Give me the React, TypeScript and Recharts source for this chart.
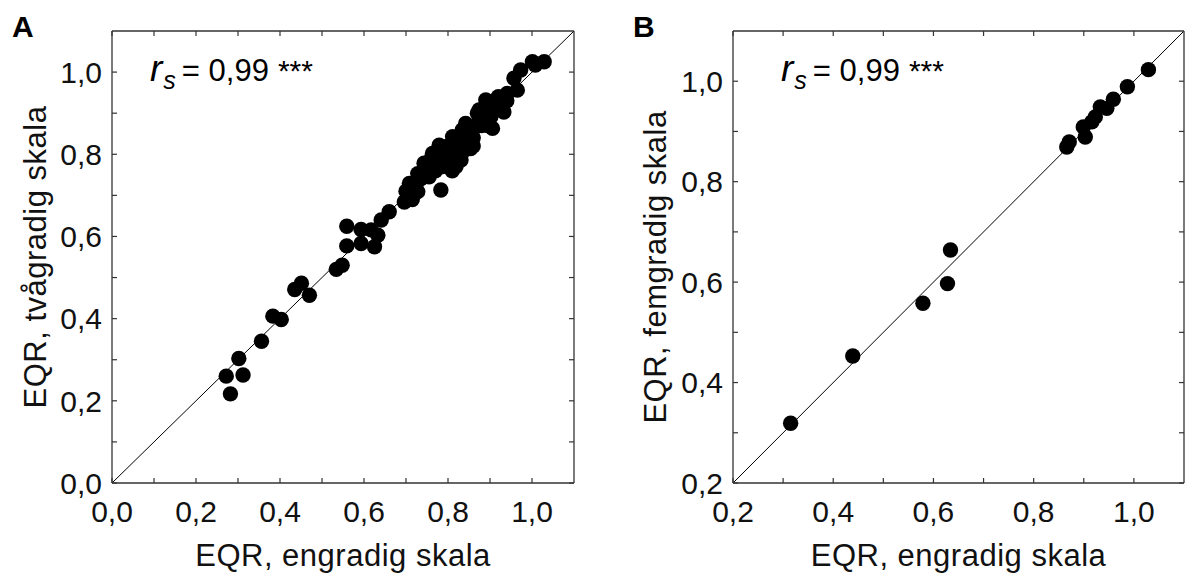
import React from 'react';
import { ScatterChart, Scatter, XAxis, YAxis, ReferenceLine } from 'recharts';

// ---------- Data ----------
// Panel A: EQR, engradig skala (x) vs EQR, tvågradig skala (y)
const panelAEngradig = [
  0.272, 0.282, 0.302, 0.312, 0.356, 0.383, 0.403, 0.435, 0.451, 0.470,
  0.534, 0.548, 0.559, 0.559, 0.593, 0.593, 0.617, 0.625, 0.633, 0.641,
  0.660, 0.696, 0.708, 0.708, 0.728, 0.728, 0.743, 0.755, 0.763, 0.783,
  0.779, 0.787, 0.803, 0.811, 0.819, 0.831, 0.834, 0.842, 0.854, 0.842,
  0.866, 0.874, 0.874, 0.890, 0.906, 0.902, 0.914, 0.929, 0.933, 0.941,
  0.965, 0.957, 0.973, 1.001, 1.029, 1.008,
  0.790, 0.800, 0.820, 0.820, 0.850, 0.860, 0.880, 0.870, 0.890, 0.900,
  0.910, 0.920, 0.940, 0.750, 0.770, 0.735, 0.760, 0.800, 0.840, 0.810,
  0.830, 0.715, 0.770, 0.700, 0.860, 0.895,
];
const panelATvagradig = [
  0.260, 0.217, 0.303, 0.263, 0.345, 0.406, 0.398, 0.471, 0.486, 0.457,
  0.520, 0.530, 0.577, 0.625, 0.617, 0.583, 0.616, 0.575, 0.603, 0.640,
  0.660, 0.684, 0.705, 0.729, 0.709, 0.753, 0.778, 0.745, 0.802, 0.713,
  0.822, 0.770, 0.802, 0.843, 0.770, 0.786, 0.859, 0.827, 0.814, 0.875,
  0.867, 0.883, 0.908, 0.932, 0.863, 0.891, 0.916, 0.928, 0.903, 0.948,
  0.956, 0.985, 1.005, 1.025, 1.025, 1.017,
  0.790, 0.820, 0.800, 0.840, 0.850, 0.840, 0.870, 0.900, 0.890, 0.905,
  0.930, 0.940, 0.930, 0.760, 0.785, 0.740, 0.790, 0.780, 0.810, 0.760,
  0.820, 0.690, 0.760, 0.710, 0.820, 0.870,
];

// Panel B: EQR, engradig skala (x) vs EQR, femgradig skala (y)
const panelBEngradig = [
  0.315, 0.439, 0.579, 0.628, 0.634, 0.866, 0.871, 0.899, 0.903, 0.916,
  0.923, 0.933, 0.946, 0.959, 0.987, 1.029,
];
const panelBFemgradig = [
  0.319, 0.453, 0.558, 0.597, 0.664, 0.869, 0.879, 0.909, 0.889, 0.919,
  0.929, 0.949, 0.946, 0.964, 0.989, 1.023,
];

// Axes
const domainA = [0, 1.1];
const domainB = [0.2, 1.1];
const ticksA = [0, 0.1, 0.2, 0.3, 0.4, 0.5, 0.6, 0.7, 0.8, 0.9, 1.0];
const ticksB = [0.2, 0.3, 0.4, 0.5, 0.6, 0.7, 0.8, 0.9, 1.0];
const labelsA = [0, 0.2, 0.4, 0.6, 0.8, 1.0];
const labelsB = [0.2, 0.4, 0.6, 0.8, 1.0];

const xTitle = 'EQR, engradig skala';
const yTitleA = 'EQR, tvågradig skala';
const yTitleB = 'EQR, femgradig skala';
const annotation = { r: 'r', sub: 's', rest: '= 0,99', stars: '***' };

const dataA = panelAEngradig.map((x, i) => ({ x, y: panelATvagradig[i] }));
const dataB = panelBEngradig.map((x, i) => ({ x, y: panelBFemgradig[i] }));

// ---------- Styling helpers ----------
const FONT = '"Liberation Sans", Arial, Helvetica, sans-serif';
const TICK_FS = 30;
const TITLE_FS = 31;
const TICK_LEN = 5;
const AXIS_COLOR = '#333';
const TEXT_COLOR = '#111';

const fmt = (v: number) => v.toFixed(1).replace('.', ',');
const has = (arr: number[], v: number) => arr.some((a) => Math.abs(a - v) < 1e-6);

const makeTick = (side: 'bottom' | 'top' | 'left' | 'right', labels: number[]) => (p: any) => {
  const { x, y, payload } = p;
  const v = payload.value as number;
  const show = has(labels, v);
  let line: any;
  if (side === 'bottom') line = { x1: x, x2: x, y1: y, y2: y - TICK_LEN };
  else if (side === 'top') line = { x1: x, x2: x, y1: y, y2: y + TICK_LEN };
  else if (side === 'left') line = { x1: x, x2: x + TICK_LEN, y1: y, y2: y };
  else line = { x1: x, x2: x - TICK_LEN, y1: y, y2: y };
  return (
    <g>
      <line {...line} stroke={AXIS_COLOR} strokeWidth={1.2} />
      {show && side === 'bottom' && (
        <text x={x} y={y + 39} textAnchor="middle" fontFamily={FONT} fontSize={TICK_FS} fill={TEXT_COLOR}>
          {fmt(v)}
        </text>
      )}
      {show && side === 'left' && (
        <text x={x - 10} y={y} dy="0.36em" textAnchor="end" fontFamily={FONT} fontSize={TICK_FS} fill={TEXT_COLOR}>
          {fmt(v)}
        </text>
      )}
    </g>
  );
};

const xTitleContent = (text: string) => (p: any) => {
  const vb = p.viewBox || {};
  return (
    <text
      x={vb.x + vb.width / 2}
      y={vb.y + 83}
      textAnchor="middle"
      fontFamily={FONT}
      fontSize={TITLE_FS}
      letterSpacing={0.5}
      fill={TEXT_COLOR}
    >
      {text}
    </text>
  );
};

const yTitleContent = (text: string, off: number, shift: number) => (p: any) => {
  const vb = p.viewBox || {};
  const cx = vb.x + off;
  const cy = vb.y + vb.height / 2 + shift;
  return (
    <text
      x={cx}
      y={cy}
      transform={`rotate(-90 ${cx} ${cy})`}
      textAnchor="middle"
      dominantBaseline="central"
      fontFamily={FONT}
      fontSize={TITLE_FS}
      letterSpacing={0.5}
      fill={TEXT_COLOR}
    >
      {text}
    </text>
  );
};

const dot = (p: any) => <circle cx={p.cx} cy={p.cy} r={7.7} fill="#000" />;

function Panel(props: {
  width: number;
  rightMargin: number;
  yAxisWidth: number;
  data: { x: number; y: number }[];
  domain: number[];
  ticks: number[];
  labels: number[];
  yTitle: string;
  yTitleOffset: number;
  yTitleShift: number;
}) {
  const { width, rightMargin, yAxisWidth, data, domain, ticks, labels, yTitle, yTitleOffset, yTitleShift } = props;
  return (
    <ScatterChart width={width} height={574} margin={{ top: 30, right: rightMargin, bottom: 0, left: 0 }}>
      <XAxis
        xAxisId="b"
        type="number"
        dataKey="x"
        orientation="bottom"
        domain={domain}
        ticks={ticks}
        interval={0}
        allowDataOverflow
        height={91}
        tickSize={0}
        tickMargin={0}
        tickLine={false}
        axisLine={{ stroke: AXIS_COLOR, strokeWidth: 1.3 }}
        tick={makeTick('bottom', labels)}
        label={{ content: xTitleContent(xTitle) }}
      />
      <XAxis
        xAxisId="t"
        type="number"
        dataKey="x"
        orientation="top"
        domain={domain}
        ticks={ticks}
        interval={0}
        allowDataOverflow
        height={1}
        tickSize={0}
        tickMargin={0}
        tickLine={false}
        axisLine={{ stroke: AXIS_COLOR, strokeWidth: 1.3 }}
        tick={makeTick('top', labels)}
      />
      <YAxis
        yAxisId="l"
        type="number"
        dataKey="y"
        orientation="left"
        domain={domain}
        ticks={ticks}
        interval={0}
        allowDataOverflow
        width={yAxisWidth}
        tickSize={0}
        tickMargin={0}
        tickLine={false}
        axisLine={{ stroke: AXIS_COLOR, strokeWidth: 1.3 }}
        tick={makeTick('left', labels)}
        label={{ content: yTitleContent(yTitle, yTitleOffset, yTitleShift) }}
      />
      <YAxis
        yAxisId="r"
        type="number"
        dataKey="y"
        orientation="right"
        domain={domain}
        ticks={ticks}
        interval={0}
        allowDataOverflow
        width={1}
        tickSize={0}
        tickMargin={0}
        tickLine={false}
        axisLine={{ stroke: AXIS_COLOR, strokeWidth: 1.3 }}
        tick={makeTick('right', labels)}
      />
      <ReferenceLine
        xAxisId="b"
        yAxisId="l"
        segment={[
          { x: domain[0], y: domain[0] },
          { x: domain[1], y: domain[1] },
        ]}
        stroke="#000"
        strokeWidth={1}
        ifOverflow="visible"
      />
      <Scatter xAxisId="b" yAxisId="l" data={data} fill="#000" shape={dot} isAnimationActive={false} />
    </ScatterChart>
  );
}

function Annotation({ x, y }: { x: number; y: number }) {
  return (
    <text x={x} y={y} fontFamily={FONT} fill="#000">
      <tspan fontStyle="italic" fontSize={37}>{annotation.r}</tspan>
      <tspan fontStyle="italic" fontSize={25} dx={1} dy={8}>{annotation.sub}</tspan>
      <tspan fontSize={31} dx={6} dy={-8}>{annotation.rest}</tspan>
      <tspan fontSize={30} dx={9}>{annotation.stars}</tspan>
    </text>
  );
}

export default function App() {
  return (
    <div style={{ position: 'absolute', left: 0, top: 0, width: 1185, height: 574, background: '#fff', overflow: 'hidden' }}>
      <div style={{ position: 'absolute', left: 0, top: 0 }}>
        <Panel
          width={600}
          rightMargin={25}
          yAxisWidth={112}
          data={dataA}
          domain={domainA}
          ticks={ticksA}
          labels={labelsA}
          yTitle={yTitleA}
          yTitleOffset={35}
          yTitleShift={0}
        />
      </div>
      <div style={{ position: 'absolute', left: 600, top: 0 }}>
        <Panel
          width={585}
          rightMargin={0}
          yAxisWidth={133}
          data={dataB}
          domain={domainB}
          ticks={ticksB}
          labels={labelsB}
          yTitle={yTitleB}
          yTitleOffset={55}
          yTitleShift={10}
        />
      </div>
      <svg width={1185} height={574} style={{ position: 'absolute', left: 0, top: 0, pointerEvents: 'none' }}>
        <text x={12} y={37} fontFamily={FONT} fontWeight="bold" fontSize={30} fill="#000">A</text>
        <text x={633} y={37} fontFamily={FONT} fontWeight="bold" fontSize={30} fill="#000">B</text>
        <Annotation x={150} y={81} />
        <Annotation x={781} y={81} />
      </svg>
    </div>
  );
}
